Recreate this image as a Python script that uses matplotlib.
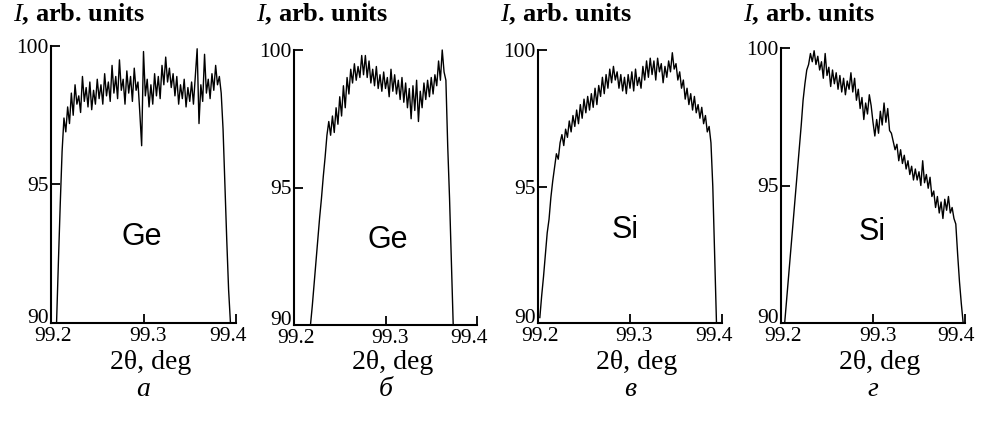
import numpy as np
import matplotlib
matplotlib.use('Agg')
import matplotlib.pyplot as plt
import matplotlib.transforms as mtransforms

plt.rcParams['font.family'] = ['Liberation Serif', 'DejaVu Serif']
plt.rcParams['mathtext.fontset'] = 'custom'
plt.rcParams['mathtext.it'] = 'Liberation Serif:italic'
plt.rcParams['mathtext.rm'] = 'Liberation Serif'

# 2theta range of each curve (deg), points are every 0.002 deg
x_range_a = [99.206, 99.394]
x_range_b = [99.218, 99.374]
x_range_c = [99.202, 99.394]
x_range_d = [99.204, 99.398]

# intensity, arb. units
I_a = [90.0, 92.2, 94.3, 96.2, 97.4, 96.9, 97.8, 97.2, 98.3, 97.5,
       98.6, 97.9, 98.2, 97.6, 98.9, 98.0, 98.5, 97.8, 98.7, 97.7,
       98.4, 97.9, 98.8, 98.1, 98.6, 97.9, 99.0, 98.2, 98.7, 98.0,
       99.3, 98.3, 98.9, 98.1, 99.5, 98.4, 98.8, 97.9, 99.1, 98.3,
       98.9, 98.0, 99.2, 98.4, 98.7, 97.6, 96.4, 99.8, 98.2, 98.8,
       97.8, 98.6, 97.9, 99.0, 98.2, 98.9, 98.1, 99.3, 98.6, 99.6,
       98.7, 99.2, 98.5, 99.0, 98.2, 98.9, 97.9, 98.6, 98.1, 98.8,
       97.8, 98.5, 98.0, 98.7, 97.9, 98.9, 99.9, 97.2, 98.6, 98.0,
       99.7, 98.3, 98.8, 98.1, 99.0, 98.4, 99.3, 98.6, 98.9, 98.3,
       97.0, 95.0, 93.0, 91.2, 90.0]

I_b = [90.0, 90.7, 91.5, 92.3, 93.1, 93.9, 94.6, 95.4, 96.1, 96.9,
       97.4, 96.9, 97.6, 97.0, 97.9, 97.3, 98.3, 97.6, 98.7, 97.9,
       99.0, 98.4, 99.3, 98.8, 99.5, 98.9, 99.4, 99.0, 99.8, 99.1,
       99.8, 99.0, 99.6, 98.8, 99.3, 98.7, 99.4, 98.6, 99.1, 98.5,
       99.2, 98.6, 99.0, 98.3, 99.3, 98.5, 99.1, 98.4, 98.9, 98.2,
       99.0, 98.1, 98.8, 97.9, 98.6, 97.5, 98.7, 97.8, 98.9, 97.4,
       98.5, 97.9, 98.8, 98.2, 98.9, 98.3, 99.0, 98.4, 99.1, 98.7,
       99.6, 98.9, 100.0, 99.2, 98.9, 96.5, 94.6, 92.3, 90.0]

I_c = [90.2, 91.0, 91.7, 92.5, 93.3, 93.8, 94.6, 95.2, 95.7, 96.2,
       96.0, 96.6, 96.9, 96.5, 97.1, 96.8, 97.4, 97.0, 97.6, 97.2,
       97.8, 97.3, 98.0, 97.5, 98.2, 97.7, 98.3, 97.8, 98.4, 97.9,
       98.6, 98.0, 98.7, 98.3, 99.0, 98.4, 99.1, 98.6, 99.3, 98.8,
       99.4, 98.9, 99.2, 98.6, 99.1, 98.5, 99.0, 98.4, 99.1, 98.6,
       99.2, 98.5, 99.3, 98.7, 99.0, 98.6, 99.4, 98.9, 99.6, 99.0,
       99.7, 99.1, 99.6, 98.9, 99.7, 99.2, 99.5, 98.8, 99.4, 99.0,
       99.6, 99.2, 99.9, 99.3, 99.5, 98.9, 99.2, 98.6, 98.9, 98.2,
       98.6, 98.0, 98.4, 97.8, 98.3, 97.7, 98.0, 97.5, 97.9, 97.3,
       97.6, 97.0, 97.2, 96.6, 95.0, 92.5, 90.0]

I_d = [90.0, 90.8, 91.6, 92.4, 93.2, 94.0, 94.8, 95.6, 96.4, 97.2,
       98.1, 98.7, 99.2, 99.4, 99.8, 99.5, 99.9, 99.4, 99.7, 99.2,
       99.5, 98.9, 99.8, 99.0, 99.3, 98.6, 99.2, 98.7, 99.1, 98.5,
       99.0, 98.4, 98.9, 98.3, 98.8, 98.5, 99.1, 98.4, 98.9, 98.1,
       98.5, 97.8, 98.2, 97.4, 98.0, 97.6, 98.3, 97.9, 97.3, 96.8,
       97.4, 96.9, 97.7, 97.2, 98.0, 97.3, 97.8, 97.0, 96.9, 96.6,
       96.3, 96.5, 95.9, 96.3, 95.8, 96.1, 95.6, 95.9, 95.4, 95.7,
       95.2, 95.6, 95.2, 95.5, 95.0, 95.9, 95.1, 95.4, 94.9, 95.3,
       94.6, 94.8, 94.2, 94.6, 94.0, 94.4, 93.8, 94.5, 94.1, 94.6,
       94.0, 94.2, 93.8, 93.6, 92.5, 91.5, 90.7, 90.0]

x_ranges = [x_range_a, x_range_b, x_range_c, x_range_d]
curves = [I_a, I_b, I_c, I_d]
samples = ['Ge', 'Ge', 'Si', 'Si']
sample_pos = [(99.298, 93.1), (99.302, 93.1), (99.295, 93.4), (99.299, 93.3)]
letters = ['а', 'б', 'в', 'г']

xticks = [99.2, 99.3, 99.4]
yticks = [90, 95, 100]
# the x tick labels in the picture sit a bit off their ticks (pixels)
xlabel_shift = [2, 4.5, -8.5]

W, H = 982, 421
# axes boxes in pixels: left, top, right, bottom
boxes = [(51, 46, 236, 323), (294, 50, 477, 325),
         (538, 50, 722, 323), (781, 48, 965, 323)]

fig = plt.figure(figsize=(W / 100, H / 100), dpi=100)

for k in range(4):
    l, t, r, b = boxes[k]
    ax = fig.add_axes([l / W, (H - b) / H, (r - l) / W, (b - t) / H])
    x = np.linspace(x_ranges[k][0], x_ranges[k][1], len(curves[k]))
    ax.plot(x, curves[k], color='black', lw=1.0, clip_on=False)
    ax.set_xlim(99.2, 99.4)
    ax.set_ylim(90, 100)
    ax.set_xticks(xticks)
    ax.set_xticklabels(['%.1f' % v for v in xticks])
    ax.set_yticks(yticks)
    ax.set_yticklabels(['%d' % v for v in yticks])
    for s in ['top', 'right']:
        ax.spines[s].set_visible(False)
    for s in ['left', 'bottom']:
        ax.spines[s].set_linewidth(1.5)
    ax.tick_params(direction='in', length=6.5, width=1.3, labelsize=15.5)
    ax.tick_params(axis='y', pad=1.5)
    ax.tick_params(axis='x', pad=3)
    for lab, dx in zip(ax.get_xticklabels(), xlabel_shift):
        lab.set_transform(lab.get_transform() +
                          mtransforms.ScaledTranslation(dx / 100, 0, fig.dpi_scale_trans))
    # lift the "90" label a little so it clears the "99.2" below it
    lab90 = ax.get_yticklabels()[0]
    lab90.set_transform(lab90.get_transform() +
                        mtransforms.ScaledTranslation(0, 7 / 100, fig.dpi_scale_trans))
    ax.text(sample_pos[k][0], sample_pos[k][1], samples[k], family='Liberation Sans',
            fontsize=22, ha='center', va='center')

    cx = (l + r) / 2
    fig.text((l - 38) / W, (H - 21) / H, '$I$, arb. units', fontsize=19,
             fontweight='bold', ha='left', va='baseline')
    fig.text((cx + 7) / W, (H - 369) / H, '2θ, deg', fontsize=20,
             ha='center', va='baseline')
    fig.text(cx / W, (H - 396) / H, letters[k], fontsize=20, style='italic',
             ha='center', va='baseline')

fig.savefig('out.png', dpi=100)
